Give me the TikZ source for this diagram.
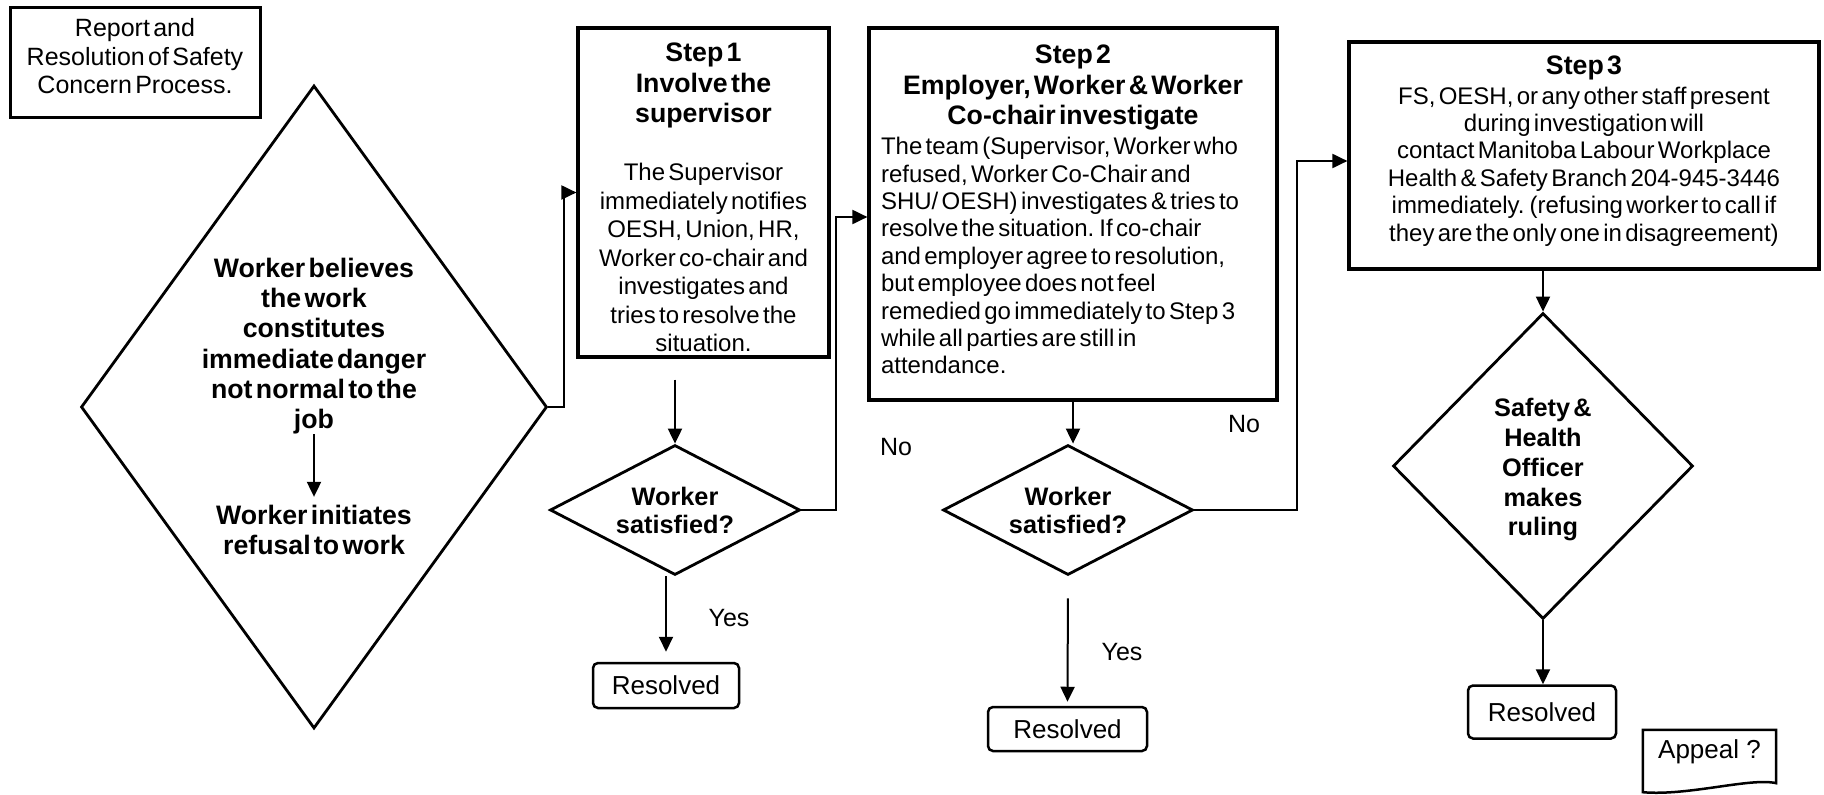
\documentclass[tikz,border=0pt]{standalone}
\usepackage{fontspec}
\setmainfont{Liberation Sans}
\usetikzlibrary{arrows.meta, shapes.geometric}

\newcommand{\hdfont}{\bfseries\fontsize{26.7pt}{30.3pt}\selectfont}
\newcommand{\txtfont}{\mdseries\fontsize{24pt}{27.4pt}\selectfont}
\newcommand{\wtxtfont}{\mdseries\fontsize{24pt}{28.5pt}\selectfont}
\newcommand{\ttlfont}{\mdseries\fontsize{25pt}{28.5pt}\selectfont}
\newcommand{\qfont}{\bfseries\fontsize{25.3pt}{28pt}\selectfont}
\newcommand{\offfont}{\bfseries\fontsize{25.3pt}{29.7pt}\selectfont}
\newcommand{\resfont}{\fontsize{26pt}{30pt}\selectfont}
\newcommand{\lblfont}{\fontsize{25pt}{30pt}\selectfont}

\begin{document}
\begin{tikzpicture}[x=1pt, y=-1pt,
  stepbox/.style={draw, line width=3.2pt, inner sep=0pt},
  decision/.style={draw, diamond, line width=2.8pt, inner sep=0pt},
  endbox/.style={draw, rounded corners=5pt, line width=2.5pt, inner sep=0pt, font=\resfont},
  lbl/.style={inner sep=0pt, font=\lblfont},
  arrow/.style={-{Triangle[length=15pt,width=14pt]}, line width=2pt}
]
  \useasboundingbox (0,0) rectangle (1824,795);

  \node[stepbox, line width=3pt, minimum width=250pt, minimum height=110pt, text width=240pt] (title) at (135,62)
    {\centering\ttlfont Report and\\Resolution of Safety\\Concern Process.\rule[-12pt]{0pt}{12pt}\par};

  \node[decision, minimum width=466pt, minimum height=643pt] (hazard) at (314,407) {};
  \node[inner sep=0pt, text width=250pt] (belief) at (314,346)
    {\centering\hdfont Worker believes\\the work\\constitutes\\immediate danger\\not normal to the\\job\par};
  \node[inner sep=0pt, text width=250pt] (refuse) at (314,530)
    {\centering\hdfont Worker initiates\\refusal to work\par};

  \node[stepbox, minimum width=251pt, minimum height=329pt, text width=238pt] (step1) at (703.5,192.5)
    {\centering\hdfont\rule{0pt}{29pt}Step 1\\Involve the\\supervisor\\[30pt]\wtxtfont The Supervisor\\immediately notifies\\OESH, Union, HR,\\Worker co-chair and\\investigates and\\tries to resolve the\\situation.\par};
  \node[stepbox, minimum width=408pt, minimum height=372pt, text width=384pt] (step2) at (1073,214)
    {\centering\hdfont Step 2\\Employer, Worker \& Worker\\Co-chair investigate\\[3pt]\raggedright\txtfont The team (Supervisor, Worker who\\refused, Worker Co-Chair and\\SHU/ OESH) investigates \& tries to\\resolve the situation. If co-chair\\and employer agree to resolution,\\but employee does not feel\\remedied go immediately to Step 3\\while all parties are still in\\attendance.\rule[-9pt]{0pt}{9pt}\par};
  \node[stepbox, minimum width=470pt, minimum height=227pt, text width=450pt] (step3) at (1584,155.5)
    {\centering\hdfont Step 3\\[2pt]\txtfont FS, OESH, or any other staff present\\during investigation will\\contact Manitoba Labour Workplace\\Health \& Safety Branch 204-945-3446\\immediately. (refusing worker to call if\\they are the only one in disagreement)\rule[-14pt]{0pt}{14pt}\par};

  \node[decision, aspect=1.92, minimum width=250pt, minimum height=130pt, text width=130pt] (sat1) at (675,510)
    {\centering\qfont Worker\\satisfied?\par};
  \node[decision, aspect=1.92, minimum width=250pt, minimum height=130pt, text width=130pt] (sat2) at (1068,510)
    {\centering\qfont Worker\\satisfied?\par};
  \node[decision, minimum width=300pt, minimum height=306pt, text width=120pt] (ruling) at (1543,466)
    {\centering\offfont\rule{0pt}{26pt}Safety \&\\Health\\Officer\\makes\\ruling\par};

  \node[endbox, minimum width=146pt, minimum height=45pt] (res1) at (666,685.5) {Resolved};
  \node[endbox, minimum width=159pt, minimum height=44pt] (res2) at (1067.5,729) {Resolved};
  \node[endbox, minimum width=148pt, minimum height=53pt] (res3) at (1542,712) {Resolved};
  \node[lbl, font=\resfont, minimum width=133pt, minimum height=53pt, text depth=14pt] (appeal) at (1709.5,756.5) {Appeal ?};
  \draw[line width=2.5pt] (appeal.north west) -- ([yshift=-9pt]appeal.south west)
    .. controls +(45,4) and +(-25,-6) .. (appeal.south east) -- (appeal.north east) -- cycle;

  \node[lbl] (yes1) at (729,618) {Yes};
  \node[lbl] (yes2) at (1122,652) {Yes};
  \node[lbl] (no1) at (896,447) {No};
  \node[lbl] (no2) at (1244,424) {No};

  \draw[arrow] (hazard.east) -- ++(16,0) |- (step1.west);
  \draw[arrow, shorten >=8pt] (belief) -- (refuse);
  \draw[arrow, shorten <=21pt] (step1.south -| sat1.north) -- (sat1.north);
  \draw[arrow, shorten >=10pt] (sat1.south -| res1.north) -- (res1.north);
  \draw[arrow] (sat1.east) -- ++(35,0) |- ([yshift=-3pt]step2.west);
  \draw[arrow] (step2.south) -- (step2.south |- sat2.north);
  \draw[arrow, shorten <=22pt, shorten >=4pt] (sat2.south) -- (res2.north);
  \draw[arrow] (sat2.east) -- ++(103,0) |- ([yshift=-5.5pt]step3.west);
  \draw[arrow] (ruling.north |- step3.south) -- (ruling.north);
  \draw[arrow] (ruling.south) -- (ruling.south |- res3.north);
\end{tikzpicture}
\end{document}
